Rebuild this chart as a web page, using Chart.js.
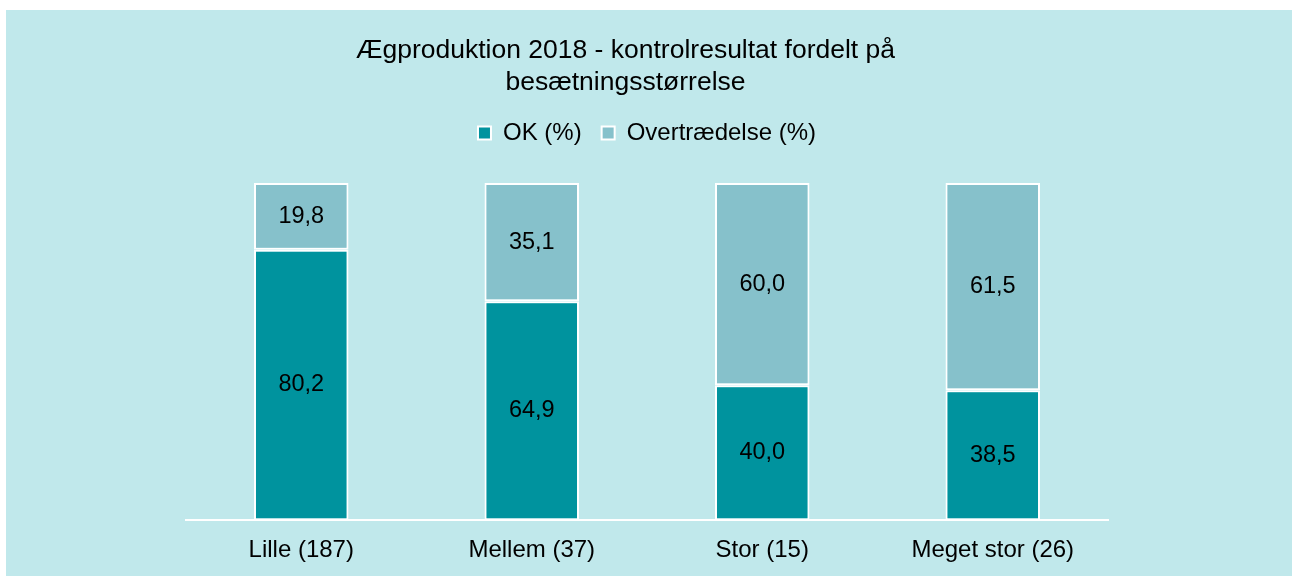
<!DOCTYPE html>
<html lang="da">

<head>
    <meta charset="UTF-8">
    <title>Ægproduktion 2018</title>
    <style>
        body { margin: 0; background: #ffffff; }
        #wrap { position: absolute; left: 6px; top: 10px; width: 1286px; height: 566px; background: #c0e8eb; }
    </style>
</head>

<body>

    <div id="wrap">
        <canvas id="myChart"></canvas>
    </div>

    <script src="https://cdn.jsdelivr.net/npm/chart.js"></script>
    <script>
        const titleLines = ['Ægproduktion 2018 - kontrolresultat fordelt på', 'besætningsstørrelse'];
        const categories = ['Lille (187)', 'Mellem (37)', 'Stor (15)', 'Meget stor (26)'];
        const okValues = [80.2, 64.9, 40.0, 38.5];
        const overtraedelseValues = [19.8, 35.1, 60.0, 61.5];

        const fontFamily = "'Liberation Sans', Arial, sans-serif";

        // skriver værdierne midt i hver søjle
        const valueLabels = {
            id: 'valueLabels',
            afterDatasetsDraw(chart) {
                const ctx = chart.ctx;
                ctx.save();
                ctx.font = '23.5px ' + fontFamily;
                ctx.fillStyle = '#000000';
                ctx.textAlign = 'center';
                ctx.textBaseline = 'middle';
                chart.data.datasets.forEach((ds, i) => {
                    chart.getDatasetMeta(i).data.forEach((bar, j) => {
                        const p = bar.getCenterPoint();
                        ctx.fillText(ds.data[j].toFixed(1).replace('.', ','), p.x, p.y);
                    });
                });
                ctx.restore();
            }
        };

        // titel lidt forskudt mod venstre som i originalen
        const chartTitle = {
            id: 'chartTitle',
            afterDraw(chart) {
                const ctx = chart.ctx;
                ctx.save();
                ctx.font = '26.5px ' + fontFamily;
                ctx.fillStyle = '#000000';
                ctx.textAlign = 'center';
                ctx.textBaseline = 'middle';
                titleLines.forEach((line, i) => {
                    ctx.fillText(line, 619.5, 41 + i * 32);
                });
                ctx.restore();
            }
        };

        const ctx = document.getElementById('myChart');

        new Chart(ctx, {
            type: 'bar',
            data: {
                labels: categories,
                datasets: [{
                    label: 'OK (%)',
                    data: okValues,
                    backgroundColor: '#00939e',
                    borderColor: '#ffffff',
                    borderWidth: 2,
                    borderSkipped: false
                }, {
                    label: 'Overtrædelse (%)',
                    data: overtraedelseValues,
                    backgroundColor: '#86c1cb',
                    borderColor: '#ffffff',
                    borderWidth: 2,
                    borderSkipped: false
                }]
            },
            options: {
                responsive: true,
                maintainAspectRatio: false,
                animation: false,
                datasets: {
                    bar: {
                        barPercentage: 0.41,
                        categoryPercentage: 1
                    }
                },
                layout: {
                    padding: { top: 91, left: 180, right: 184, bottom: -5 }
                },
                scales: {
                    x: {
                        stacked: true,
                        grid: { display: false, drawTicks: false },
                        border: { display: true, color: '#ffffff', width: 2 },
                        ticks: {
                            color: '#000000',
                            padding: 16,
                            font: { family: fontFamily, size: 24 }
                        }
                    },
                    y: {
                        stacked: true,
                        display: false,
                        min: 0,
                        max: 108.3
                    }
                },
                plugins: {
                    legend: {
                        position: 'top',
                        labels: {
                            boxWidth: 13,
                            boxHeight: 13,
                            padding: 20,
                            color: '#000000',
                            font: { family: fontFamily, size: 24 }
                        }
                    },
                    tooltip: { enabled: false }
                }
            },
            plugins: [valueLabels, chartTitle]
        });
    </script>
</body>

</html>
